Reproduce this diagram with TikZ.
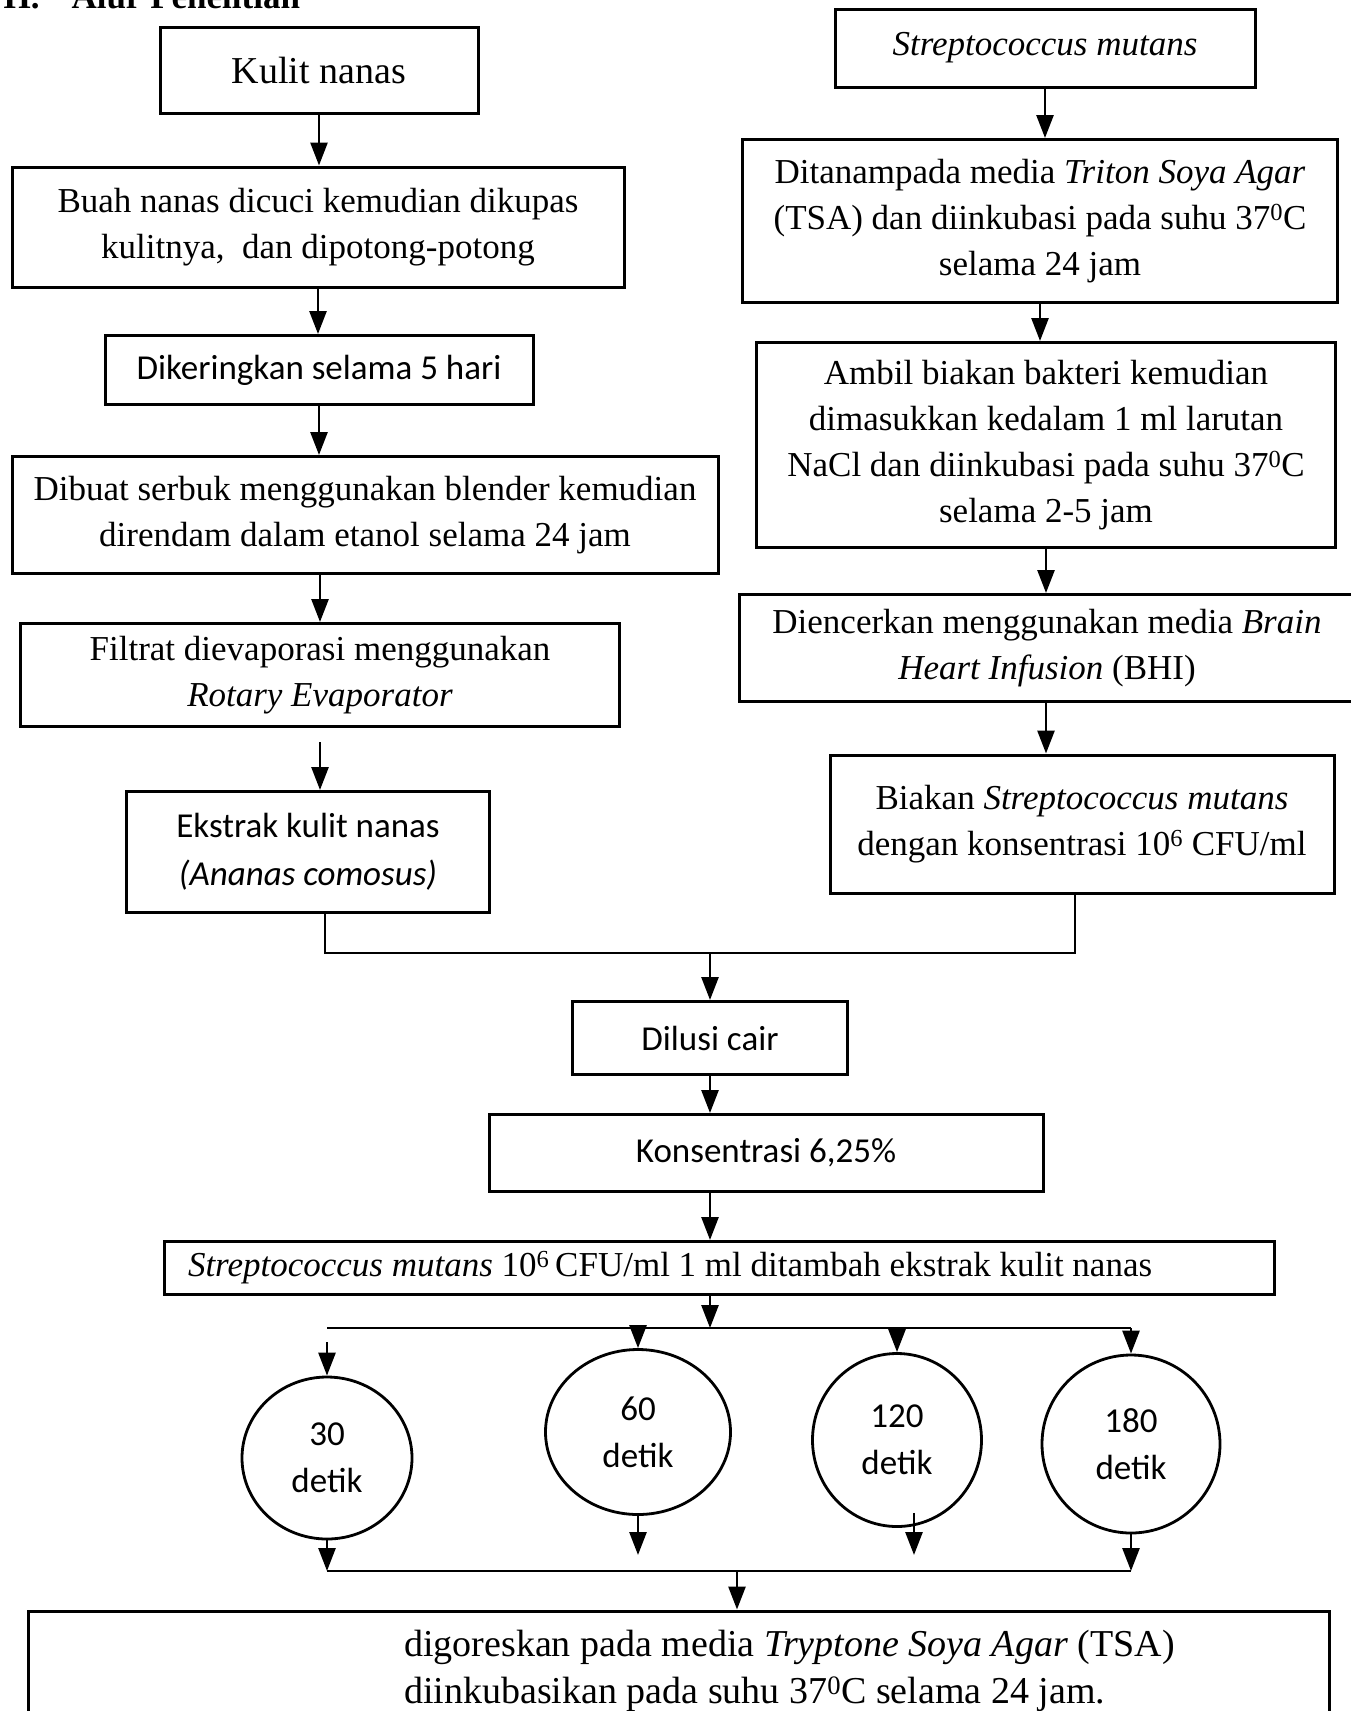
\documentclass[tikz,border=0pt]{standalone}
\usepackage{fontspec}
\setmainfont{Liberation Serif}
\newfontfamily\calibri{Carlito}
\usetikzlibrary{arrows.meta,shapes.geometric}

\tikzset{
  kotak/.style={draw, line width=3pt, align=flush center, inner sep=0pt, font=\fontsize{35}{46}\selectfont},
  kotaksans/.style={kotak, font=\calibri\fontsize{35}{48}\selectfont},
  lingkar/.style={ellipse, draw, line width=2.8pt, align=flush center, inner sep=0pt, font=\calibri\fontsize{35}{47}\selectfont},
  panah/.style={line width=2.7pt, -{Triangle[length=23pt,width=17pt]}},
  garis/.style={line width=2.7pt},
}

\begin{document}
\begin{tikzpicture}[x=1pt,y=-1pt]
  \useasboundingbox (0,0) rectangle (1351,1711);
  \node[anchor=base west, font=\bfseries\fontsize{35}{40}\selectfont] (judul) at (0,8) {H.\hspace{32pt}Alur Penelitian};

  % kolom kiri
  \node[kotak, font=\fontsize{38}{46}\selectfont, minimum width=318pt, minimum height=86pt] (kulit) at (319,70) {Kulit nanas};
  \node[kotak, minimum width=612pt, minimum height=120pt] (cuci) at (318,227) {Buah nanas dicuci kemudian dikupas\\kulitnya,\ \ dan dipotong-potong};
  \node[kotaksans, minimum width=428pt, minimum height=69pt] (kering) at (319,370) {Dikeringkan selama 5 hari};
  \node[kotak, minimum width=706pt, minimum height=117pt] (serbuk) at (365,515) {Dibuat serbuk menggunakan blender kemudian\\direndam dalam etanol selama 24 jam};
  \node[kotak, minimum width=599pt, minimum height=103pt] (filtrat) at (320,675) {Filtrat dievaporasi menggunakan\\\textit{Rotary Evaporator}};
  \node[kotaksans, minimum width=363pt, minimum height=121pt] (ekstrak) at (308,852) {Ekstrak kulit nanas\\\textit{(Ananas comosus)}};

  % kolom kanan
  \node[kotak, minimum width=420pt, minimum height=78pt] (strep) at (1045,48) {\textit{Streptococcus mutans}};
  \node[kotak, minimum width=595pt, minimum height=163pt] (tanam) at (1040,221) {Ditanampada media \textit{Triton Soya Agar}\\(TSA) dan diinkubasi pada suhu 37\textsuperscript{0}C\\selama 24 jam};
  \node[kotak, minimum width=579pt, minimum height=205pt] (ambil) at (1046,445) {Ambil biakan bakteri kemudian\\dimasukkan kedalam 1 ml larutan\\NaCl dan diinkubasi pada suhu 37\textsuperscript{0}C\\selama 2-5 jam};
  \node[kotak, minimum width=615pt, minimum height=107pt] (encer) at (1047,648) {Diencerkan menggunakan media \textit{Brain}\\\textit{Heart Infusion} (BHI)};
  \node[kotak, minimum width=504pt, minimum height=138pt] (biakan) at (1082,824) {Biakan \textit{Streptococcus mutans}\\dengan konsentrasi 10\textsuperscript{6} CFU/ml};

  % tengah
  \node[kotaksans, minimum width=275pt, minimum height=73pt] (dilusi) at (710,1038) {Dilusi cair};
  \node[kotaksans, minimum width=554pt, minimum height=77pt] (konsen) at (766,1153) {Konsentrasi 6,25\%};
  \node[kotak, text width=1062pt, inner xsep=24pt, minimum height=53pt, align=flush left] (campur) at (719,1268) {\textit{Streptococcus mutans} 10\textsuperscript{6}\,CFU/ml 1 ml ditambah ekstrak kulit nanas};

  \node[lingkar, minimum width=170pt, minimum height=162pt] (d30) at (327,1458) {30\\detik};
  \node[lingkar, minimum width=185pt, minimum height=165pt] (d60) at (638,1432) {60\\detik};
  \node[lingkar, minimum width=169pt, minimum height=173pt] (d120) at (897,1440) {120\\detik};
  \node[lingkar, minimum width=178pt, minimum height=178pt] (d180) at (1131,1444) {180\\detik};

  \node[draw, line width=3pt, minimum width=1301pt, minimum height=150pt, inner sep=0pt] (hasil) at (678.5,1686) {};
  \node[anchor=west, align=flush left, inner sep=0pt, font=\fontsize{38}{47}\selectfont] (hasiltxt) at (404,1671) {digoreskan pada media \textit{Tryptone Soya Agar} (TSA)\\diinkubasikan pada suhu 37\textsuperscript{0}C selama 24 jam.};

  % panah kiri
  \draw[panah] (kulit) -- (kulit |- cuci.north);
  \draw[panah] (cuci) -- (cuci |- kering.north);
  \draw[panah] (kering) -- (kering |- serbuk.north);
  \draw[panah] (serbuk.south -| filtrat) -- (filtrat.north);
  \draw[panah] ([yshift=-14pt]filtrat.south) -- (filtrat.south |- ekstrak.north);

  % panah kanan
  \draw[panah] (strep) -- (strep |- tanam.north);
  \draw[panah] (tanam) -- (tanam |- ambil.north);
  \draw[panah] (ambil) -- (ambil |- encer.north);
  \draw[panah] (encer.south -| ambil) -- (ambil |- biakan.north);

  % gabung
  \coordinate (gabung) at (710,953);
  \draw[garis] ([xshift=17pt]ekstrak.south) |- (gabung) -| ([xshift=-7pt]biakan.south);
  \draw[panah] (gabung) -- (dilusi);
  \draw[panah] (dilusi) -- (dilusi |- konsen.north);
  \draw[panah] (konsen.south -| dilusi) -- (dilusi |- campur.north);

  % cabang waktu
  \coordinate (cabang) at (710,1328);
  \draw[panah] (campur.south -| cabang) -- (cabang);
  \draw[garis] (d30 |- cabang) -- (d180 |- cabang);
  \draw[panah] ([yshift=-14pt]d30.north |- cabang) -- (d30.north);
  \draw[panah] (d60 |- cabang) -- (d60.north);
  \draw[panah] (d120 |- cabang) -- (d120.north);
  \draw[panah] (d180 |- cabang) -- (d180.north);

  \coordinate (kumpul) at (737,1571);
  \draw[panah] (d30.south) -- (d30 |- kumpul);
  \draw[panah] (d60.south) -- ([yshift=16pt]d60 |- kumpul);
  \draw[panah] ([shift={(17pt,15pt)}]d120.south) -- ([shift={(17pt,16pt)}]d120 |- kumpul);
  \draw[panah] (d180.south) -- (d180 |- kumpul);
  \draw[garis] (d30 |- kumpul) -- (d180 |- kumpul);
  \draw[panah] (kumpul) -- (kumpul |- hasil.north);
\end{tikzpicture}
\end{document}
